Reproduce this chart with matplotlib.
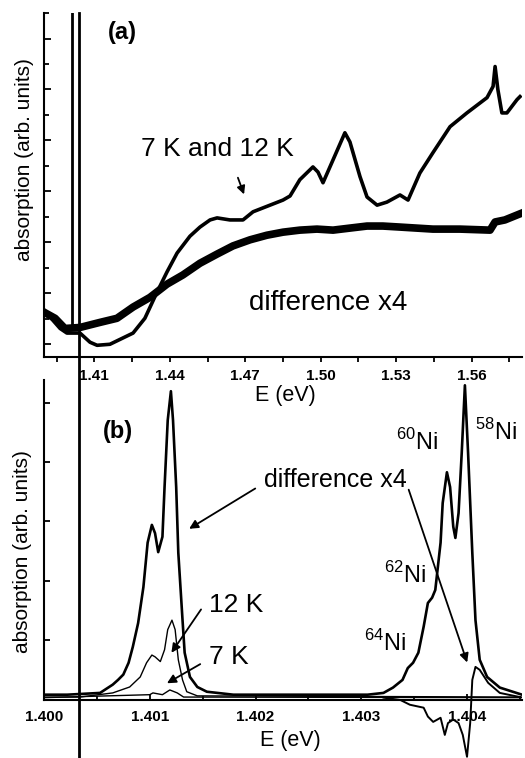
import numpy as np
import matplotlib
matplotlib.use("Agg")
import matplotlib.pyplot as plt
from matplotlib.ticker import MultipleLocator

plt.rcParams['font.family'] = ['Liberation Sans', 'DejaVu Sans']
plt.rcParams['mathtext.fontset'] = 'custom'
plt.rcParams['mathtext.rm'] = 'Liberation Sans'

# ---- panel (a): broad absorption, E in eV ----
E_ab = [1.3900, 1.3964, 1.3991, 1.4043, 1.4083, 1.4111, 1.4162, 1.4254, 1.4301,
        1.4349, 1.4389, 1.4429, 1.4480, 1.4520, 1.4560, 1.4588, 1.4639, 1.4691,
        1.4731, 1.4850, 1.4878, 1.4917, 1.4969, 1.4989, 1.5009, 1.5049, 1.5096,
        1.5116, 1.5156, 1.5184, 1.5224, 1.5263, 1.5315, 1.5347, 1.5394, 1.5446,
        1.5514, 1.5581, 1.5661, 1.5685, 1.5693, 1.5704, 1.5720, 1.5740, 1.5780,
        1.5792]
abs_7_12K = [0.67, 0.31, 0.22, 0.22, 0.04, -0.02, 0.00, 0.22, 0.51,
             1.02, 1.42, 1.79, 2.12, 2.30, 2.44, 2.48, 2.44, 2.44,
             2.60, 2.83, 2.91, 3.23, 3.48, 3.38, 3.17, 3.62, 4.15,
             3.97, 3.29, 2.89, 2.73, 2.79, 2.93, 2.83, 3.36, 3.76,
             4.27, 4.54, 4.84, 5.06, 5.45, 5.00, 4.54, 4.54, 4.80,
             4.86]

E_diff_a = [1.3900, 1.3944, 1.3983, 1.4043, 1.4123, 1.4190, 1.4254, 1.4321,
            1.4389, 1.4452, 1.4520, 1.4588, 1.4651, 1.4719, 1.4786, 1.4850,
            1.4917, 1.4985, 1.5049, 1.5116, 1.5184, 1.5247, 1.5315, 1.5446,
            1.5553, 1.5673, 1.5693, 1.5732, 1.5792]
abs_diff_a = [0.63, 0.51, 0.31, 0.33, 0.43, 0.51, 0.73, 0.92,
              1.18, 1.36, 1.59, 1.77, 1.93, 2.05, 2.14, 2.20,
              2.24, 2.26, 2.24, 2.28, 2.32, 2.32, 2.30, 2.26,
              2.26, 2.24, 2.40, 2.44, 2.56]

spike_a = [1.4010]      # sharp line at the left edge of (a)
marker_E = 1.40033      # long vertical line through both panels

# ---- panel (b): isotope structure, E in eV ----
E_big = [1.40000, 1.40022, 1.40053, 1.40065, 1.40070, 1.40075, 1.40080, 1.40084,
         1.40089, 1.40094, 1.40098, 1.40102, 1.40105, 1.40108, 1.40112, 1.40114,
         1.40117, 1.40120, 1.40122, 1.40125, 1.40127, 1.40131, 1.40133, 1.40138,
         1.40145, 1.40154, 1.40179, 1.40306, 1.40321, 1.40330, 1.40339, 1.40344,
         1.40349, 1.40354, 1.40359, 1.40363, 1.40367, 1.40370, 1.40375, 1.40377,
         1.40381, 1.40384, 1.40387, 1.40389, 1.40392, 1.40395, 1.40398, 1.40401,
         1.40405, 1.40408, 1.40412, 1.40419, 1.40431, 1.40452]
abs_big = [0.07, 0.07, 0.10, 0.24, 0.32, 0.41, 0.61, 0.88,
           1.28, 1.89, 2.64, 2.94, 2.80, 2.48, 2.74, 3.58,
           4.71, 5.20, 4.71, 3.58, 2.47, 1.33, 0.78, 0.37,
           0.20, 0.12, 0.07, 0.07, 0.10, 0.19, 0.32, 0.52,
           0.61, 0.78, 1.22, 1.62, 1.71, 1.84, 2.64, 3.31,
           3.83, 3.58, 2.91, 2.72, 3.14, 4.16, 5.30, 4.16,
           2.47, 1.33, 0.66, 0.37, 0.19, 0.07]

E_12K = [1.40000, 1.40034, 1.40065, 1.40081, 1.40091, 1.40097, 1.40102, 1.40105,
         1.40110, 1.40114, 1.40117, 1.40121, 1.40124, 1.40127, 1.40131, 1.40135,
         1.40145, 1.40452]
abs_12K = [0.03, 0.03, 0.10, 0.20, 0.37, 0.61, 0.74, 0.71,
           0.63, 0.83, 1.17, 1.33, 1.17, 0.66, 0.32, 0.12,
           0.05, 0.03]

E_7K = [1.40000, 1.40100, 1.40103, 1.40112, 1.40119, 1.40126, 1.40132, 1.40452]
abs_7K = [0.02, 0.07, 0.10, 0.07, 0.15, 0.10, 0.03, 0.02]

E_deriv = [1.40321, 1.40337, 1.40346, 1.40359, 1.40363, 1.40368, 1.40375, 1.40379,
           1.40382, 1.40387, 1.40392, 1.40396, 1.40400, 1.40403, 1.40405, 1.40408,
           1.40412, 1.40420, 1.40431, 1.40450]
abs_deriv = [0.02, -0.02, -0.10, -0.15, -0.30, -0.39, -0.32, -0.61,
             -0.41, -0.35, -0.41, -0.61, -0.98, -0.41, 0.32, 0.54,
             0.49, 0.27, 0.10, 0.03]

fig = plt.figure(figsize=(5.25, 7.58), dpi=100)
ax_a = fig.add_axes([0.0838, 0.529, 0.9105, 0.4538])
ax_b = fig.add_axes([0.0838, 0.0765, 0.9105, 0.4222])
ax_b.patch.set_visible(False)

for ax in (ax_a, ax_b):
    ax.spines['top'].set_visible(False)
    ax.spines['right'].set_visible(False)
    for s in ('left', 'bottom'):
        ax.spines[s].set_linewidth(1.5)

# panel (a)
ax_a.plot(E_diff_a, abs_diff_a, color='k', lw=5.5, solid_joinstyle='round')
ax_a.plot(E_ab, abs_7_12K, color='k', lw=2.6, solid_joinstyle='round')
for e in spike_a:
    ax_a.axvline(e, ymin=0.09, ymax=1, color='k', lw=2)
ax_a.set_xlim(1.39, 1.58)
ax_a.set_ylim(-0.25, 6.5)
ax_a.set_xticks([1.41, 1.44, 1.47, 1.50, 1.53, 1.56])
ax_a.set_xticklabels(['1.41', '1.44', '1.47', '1.50', '1.53', '1.56'],
                     fontsize=11, fontweight='bold')
ax_a.xaxis.set_minor_locator(MultipleLocator(0.015))
ax_a.yaxis.set_major_locator(MultipleLocator(1))
ax_a.yaxis.set_minor_locator(MultipleLocator(0.5))
ax_a.tick_params(axis='x', which='both', direction='out', length=3.5, width=1.3, pad=5)
ax_a.tick_params(axis='y', which='major', direction='in', length=5, width=1.3)
ax_a.tick_params(axis='y', which='minor', direction='in', length=3.5, width=1.3)
ax_a.set_yticklabels([])
ax_a.set_xlabel('E (eV)', fontsize=15.5)
ax_a.xaxis.set_label_coords(0.504, -0.081)
ax_a.set_ylabel('absorption (arb. units)', fontsize=15)
ax_a.yaxis.set_label_coords(-0.02, 0.573)

ax_a.text(0.163, 0.942, '(a)', transform=ax_a.transAxes, fontsize=17,
          fontweight='bold', ha='center', va='center')
ax_a.text(0.362, 0.605, '7 K and 12 K', transform=ax_a.transAxes, fontsize=19,
          ha='center', va='center')
ax_a.annotate('', xy=(1.4699, 2.89), xytext=(1.4667, 3.32),
              arrowprops=dict(arrowstyle='-|>', color='k', lw=1.3, mutation_scale=12))
ax_a.text(0.594, 0.157, 'difference x4', transform=ax_a.transAxes, fontsize=20,
          ha='center', va='center')

# panel (b)
ax_b.plot(E_big, abs_big, color='k', lw=1.9, solid_joinstyle='round')
ax_b.plot(E_12K, abs_12K, color='k', lw=1.0)
ax_b.plot(E_7K, abs_7K, color='k', lw=1.0)
ax_b.plot(E_deriv, abs_deriv, color='k', lw=1.4, clip_on=False)
ax_b.axvline(marker_E, ymin=-0.19, ymax=2.147, color='k', lw=2, clip_on=False)
ax_b.set_xlim(1.400, 1.40452)
ax_b.set_ylim(-0.02, 5.39)
ax_b.set_xticks([1.400, 1.401, 1.402, 1.403, 1.404])
ax_b.set_xticklabels(['1.400', '1.401', '1.402', '1.403', '1.404'],
                     fontsize=11, fontweight='bold')
ax_b.xaxis.set_minor_locator(MultipleLocator(0.0005))
ax_b.set_yticks([1, 2, 3, 4, 5])
ax_b.set_yticklabels([])
ax_b.tick_params(axis='x', which='major', direction='in', length=4, width=1.3, pad=7)
ax_b.tick_params(axis='x', which='minor', direction='in', length=3, width=1.3)
ax_b.tick_params(axis='y', which='major', direction='in', length=4, width=1.3)
ax_b.set_xlabel('E (eV)', fontsize=15.5)
ax_b.xaxis.set_label_coords(0.515, -0.094)
ax_b.set_ylabel('absorption (arb. units)', fontsize=15)
ax_b.yaxis.set_label_coords(-0.025, 0.4625)

ax_b.text(0.155, 0.8375, '(b)', transform=ax_b.transAxes, fontsize=17,
          fontweight='bold', ha='center', va='center')
ax_b.text(0.609, 0.6875, 'difference x4', transform=ax_b.transAxes, fontsize=18,
          ha='center', va='center')
arr = dict(arrowstyle='-|>', color='k', lw=1.3, mutation_scale=13)
ax_b.annotate('', xy=(1.40135, 2.85), xytext=(1.40202, 3.58), arrowprops=arr)
ax_b.annotate('', xy=(1.40401, 0.57), xytext=(1.40344, 3.58), arrowprops=arr)
ax_b.text(0.402, 0.297, '12 K', transform=ax_b.transAxes, fontsize=19,
          ha='center', va='center')
ax_b.annotate('', xy=(1.40119, 0.74), xytext=(1.40150, 1.55), arrowprops=arr)
ax_b.text(0.387, 0.134, '7 K', transform=ax_b.transAxes, fontsize=19,
          ha='center', va='center')
ax_b.annotate('', xy=(1.40114, 0.24), xytext=(1.40150, 0.61), arrowprops=arr)

iso_labels = [r'$^{58}$Ni', r'$^{60}$Ni', r'$^{62}$Ni', r'$^{64}$Ni']
iso_pos = [(0.946, 0.8375), (0.780, 0.806), (0.755, 0.39), (0.713, 0.178)]
for lab, (px, py) in zip(iso_labels, iso_pos):
    ax_b.text(px, py, lab, transform=ax_b.transAxes, fontsize=17,
              ha='center', va='center')

fig.savefig('out.png', dpi=100)
